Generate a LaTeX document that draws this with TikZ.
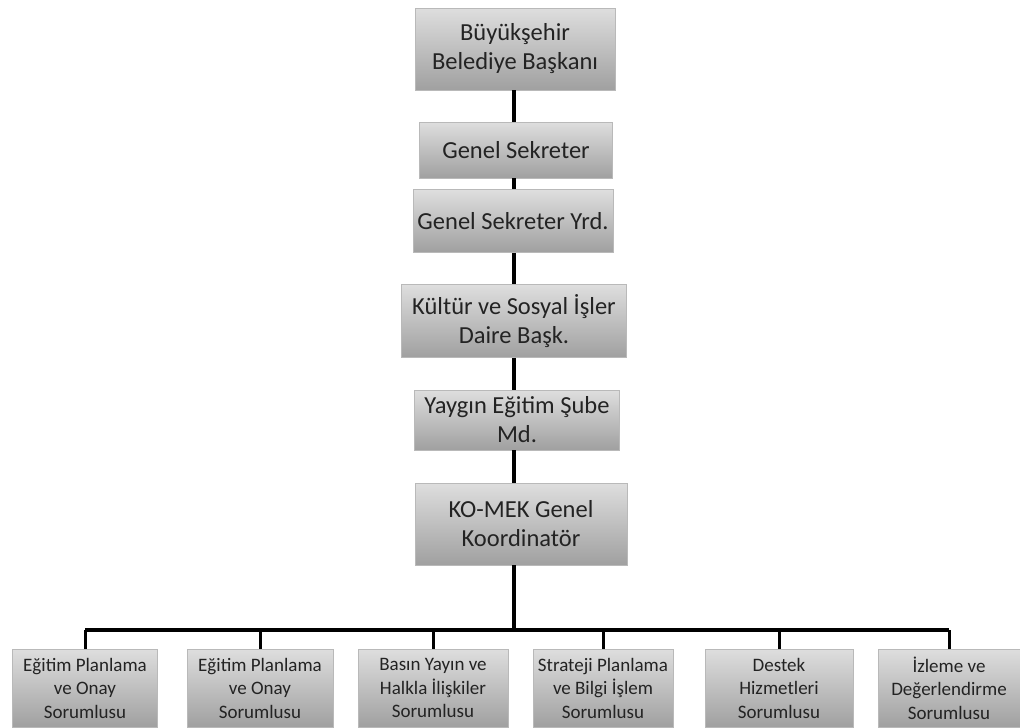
\documentclass[tikz,border=0pt]{standalone}
\usepackage{fontspec}
\setmainfont{Carlito}
\usepackage{tikz}
\usetikzlibrary{positioning}
\definecolor{OrgBoxTop}{RGB}{222,222,222}
\definecolor{OrgBoxBottom}{RGB}{160,160,160}
\definecolor{OrgText}{RGB}{35,35,35}

\begin{document}
\begin{tikzpicture}[x=1pt,y=-1pt,line join=miter,
 box/.style n args={2}{draw=gray!55,line width=0.8pt,top color=OrgBoxTop,bottom color=OrgBoxBottom,minimum width=#1,minimum height=#2,inner sep=1pt,align=center,text=OrgText,font=\fontsize{24.5}{29}\selectfont},
 sub/.style={box={#1}{78},font=\fontsize{19}{23.5}\selectfont},
 trunk/.style={line width=4.5pt},
 branch/.style={line width=3pt}]
\useasboundingbox (0,0) rectangle (1020,728);
% chain of the main offices
\node[box={200}{82}](n0) at(515,49) {Büyükşehir\\Belediye Başkanı};
\node[box={193}{56}](n1) at(516,150) {Genel Sekreter};
\node[box={200}{63}](n2) at(513,221) {Genel Sekreter Yrd.};
\node[box={225}{73}](n3) at(514,321) {Kültür ve Sosyal İşler\\Daire Başk.};
\node[box={205}{60}](n4) at(517,420) {Yaygın Eğitim Şube\\Md.};
\node[box={212}{82}](n5) at(521,524) {KO-MEK Genel\\Koordinatör};
\coordinate (bus) at (514,630);
\draw[trunk] (n0.south -| bus) -- (n1.north -| bus);
\draw[trunk] (n1.south -| bus) -- (n2.north -| bus);
\draw[trunk] (n2.south -| bus) -- (n3.north -| bus);
\draw[trunk] (n3.south -| bus) -- (n4.north -| bus);
\draw[trunk] (n4.south -| bus) -- (n5.north -| bus);
\draw[trunk] (n5.south -| bus) -- (bus);
% row of the units
\foreach \i/\x/\w/\t in %
{1/85/145/{Eğitim Planlama\\ve Onay\\Sorumlusu},
 2/260/146/{Eğitim Planlama\\ve Onay\\Sorumlusu},
 3/433/150/{Basın Yayın ve\\Halkla İlişkiler\\Sorumlusu},
 4/603/140/{Strateji Planlama\\ve Bilgi İşlem\\Sorumlusu},
 5/779/148/{Destek\\Hizmetleri\\Sorumlusu},
 6/949/142/{İzleme ve\\Değerlendirme\\Sorumlusu}} {
   \node[sub={\w}](s\i) at(\x,688) {\t};
}
\draw[trunk,line width=3.5pt] (s1.north |- bus) -- (s6.north |- bus);
\foreach \i in {1,...,6} {
   \draw[branch] (s\i.north |- bus) -- (s\i.north);
}
\end{tikzpicture}
\end{document}
